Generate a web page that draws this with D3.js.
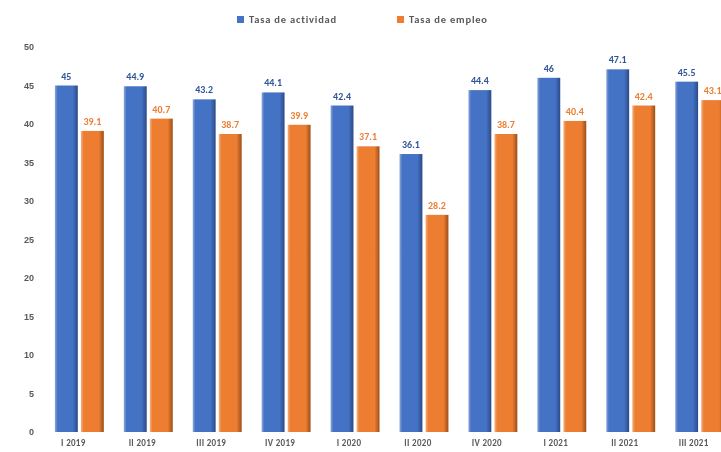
<!DOCTYPE html>
<html>
<head>
<meta charset="utf-8">
<script src="https://cdn.jsdelivr.net/npm/d3@7"></script>
<style>
body { margin: 0; background: #fff; overflow: hidden; }
svg { display: block; font-family: Calibri, Carlito, "Liberation Sans", Arial, sans-serif; filter: blur(0.5px); }
</style>
</head>
<body>
<script>
// trimestres
const quarters = ["I 2019", "II 2019", "III 2019", "IV 2019", "I 2020", "II 2020", "IV 2020", "I 2021", "II 2021", "III 2021"];
const actividad = [45, 44.9, 43.2, 44.1, 42.4, 36.1, 44.4, 46, 47.1, 45.5];
const empleo = [39.1, 40.7, 38.7, 39.9, 37.1, 28.2, 38.7, 40.4, 42.4, 43.1];
const yTicks = [0, 5, 10, 15, 20, 25, 30, 35, 40, 45, 50];
const seriesNames = ["Tasa de actividad", "Tasa de empleo"];

const width = 721, height = 452;
const margin = { top: 47, right: -10, bottom: 20, left: 48 };

const svg = d3.select('body')
    .append('svg')
    .attr('width', width)
    .attr('height', height);

const x = d3.scaleBand()
    .domain(quarters)
    .range([margin.left, width - margin.right])
    .paddingInner(0.29)
    .paddingOuter(0.1);

const xSub = d3.scaleBand()
    .domain(seriesNames)
    .range([0, x.bandwidth()])
    .paddingInner(0.12);

const y = d3.scaleLinear()
    .domain([0, 50])
    .range([height - margin.bottom, margin.top]);

// degradados tipo 3D
const defs = svg.append('defs');
function grad(id, light, mid, dark) {
    const g = defs.append('linearGradient').attr('id', id)
        .attr('x1', 0).attr('x2', 1).attr('y1', 0).attr('y2', 0);
    g.append('stop').attr('offset', '0%').attr('stop-color', light);
    g.append('stop').attr('offset', '12%').attr('stop-color', mid);
    g.append('stop').attr('offset', '78%').attr('stop-color', mid);
    g.append('stop').attr('offset', '100%').attr('stop-color', dark);
}
grad('gBlue', '#8fa8d8', '#4472c4', '#2b4a86');
grad('gOrange', '#f4b183', '#ed7d31', '#9c4f17');

// eje y
const yAxis = svg.append('g')
    .attr('transform', `translate(${margin.left - 14},0)`)
    .call(d3.axisLeft(y).tickValues(yTicks).tickSize(0).tickPadding(0));
yAxis.select('.domain').remove();
yAxis.selectAll('text')
    .attr('fill', '#595959')
    .style('font-size', '9px')
    .style('font-weight', 'bold');

const data = quarters.map((q, i) => ({ q: q, vals: [actividad[i], empleo[i]] }));

const groups = svg.selectAll('g.grp')
    .data(data)
    .enter()
    .append('g')
    .attr('class', 'grp')
    .attr('transform', d => `translate(${x(d.q)},0)`);

const fills = ['url(#gBlue)', 'url(#gOrange)'];
const labelColors = ['#2f5597', '#ed7d31'];

groups.selectAll('rect')
    .data(d => d.vals.map((v, k) => ({ v: v, k: k })))
    .enter()
    .append('rect')
    .attr('x', d => xSub(seriesNames[d.k]))
    .attr('y', d => y(d.v))
    .attr('width', xSub.bandwidth())
    .attr('height', d => y(0) - y(d.v))
    .attr('fill', d => fills[d.k]);

groups.selectAll('text.val')
    .data(d => d.vals.map((v, k) => ({ v: v, k: k })))
    .enter()
    .append('text')
    .attr('class', 'val')
    .attr('x', d => xSub(seriesNames[d.k]) + xSub.bandwidth() / 2)
    .attr('y', d => y(d.v) - 6)
    .attr('text-anchor', 'middle')
    .attr('fill', d => labelColors[d.k])
    .style('font-size', '10px')
    .style('font-weight', 'bold')
    .text(d => d.v);

// etiquetas eje x
svg.selectAll('text.xl')
    .data(quarters)
    .enter()
    .append('text')
    .attr('class', 'xl')
    .attr('x', d => x(d) + x.bandwidth() / 2 - 6)
    .attr('y', height - 6)
    .attr('text-anchor', 'middle')
    .attr('fill', '#595959')
    .style('font-size', '9px')
    .style('font-weight', 'bold')
    .style('letter-spacing', '0.3px')
    .text(d => d);

// leyenda
const legend = svg.append('g').attr('transform', 'translate(237,20)');
const legX = [0, 160];
seriesNames.forEach((n, k) => {
    legend.append('rect')
        .attr('x', legX[k]).attr('y', -4)
        .attr('width', 7).attr('height', 7)
        .attr('fill', k === 0 ? '#4472c4' : '#ed7d31');
    legend.append('text')
        .attr('x', legX[k] + 12).attr('y', 3)
        .attr('fill', '#595959')
        .style('font-size', '10.5px')
        .style('font-weight', 'bold')
        .style('letter-spacing', '0.8px')
        .text(n);
});
</script>
</body>
</html>
